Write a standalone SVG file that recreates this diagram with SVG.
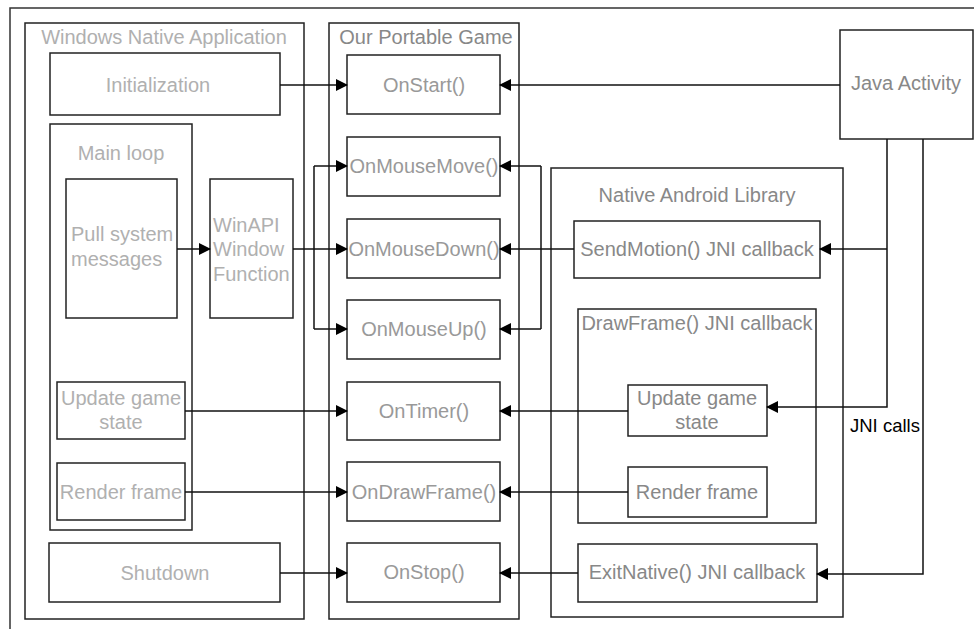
<svg xmlns="http://www.w3.org/2000/svg" width="974" height="629" viewBox="0 0 974 629">
<defs>
<style>
.b{fill:#fff;stroke:#222;stroke-width:1.5}
.c{fill:none;stroke:#111;stroke-width:1.5}
text{font-family:"Liberation Sans",Arial,sans-serif;font-size:20px;dominant-baseline:central}
.l{fill:#b0b0b0;text-anchor:middle}
.m{fill:#999;text-anchor:middle}
.r{fill:#888;text-anchor:middle}
.s{text-anchor:start}
</style>
<marker id="ah" viewBox="0 0 12 12" refX="11" refY="6" markerWidth="12" markerHeight="12" markerUnits="userSpaceOnUse" orient="auto">
<path d="M0,0 L12,6 L0,12 Z" fill="#000"/>
</marker>
</defs>
<rect x="0" y="0" width="974" height="629" fill="#fff"/>
<rect x="10" y="8" width="1000" height="700" fill="none" stroke="#333" stroke-width="1.5"/>

<g id="windows-app">
<rect class="b" x="25" y="23" width="279" height="596"/>
<text class="l" x="164" y="37">Windows Native Application</text>
</g>
<g id="initialization">
<rect class="b" x="50" y="53" width="230" height="62"/>
<text class="l" x="158" y="85">Initialization</text>
</g>
<g id="main-loop">
<rect class="b" x="50" y="124" width="142" height="406"/>
<text class="l" x="121" y="153">Main loop</text>
</g>
<g id="pull-messages">
<rect class="b" x="66" y="179" width="111" height="139"/>
<text class="l s" x="71" y="234">Pull system</text>
<text class="l s" x="71" y="259">messages</text>
</g>
<g id="winapi">
<rect class="b" x="210" y="179" width="83" height="139"/>
<text class="l s" x="213" y="225">WinAPI</text>
<text class="l s" x="213" y="249">Window</text>
<text class="l s" x="213" y="274">Function</text>
</g>
<g id="update-left">
<rect class="b" x="57" y="382" width="128" height="57"/>
<text class="l" x="121" y="398">Update game</text>
<text class="l" x="121" y="422">state</text>
</g>
<g id="render-left">
<rect class="b" x="57" y="463" width="128" height="57"/>
<text class="l" x="121" y="492">Render frame</text>
</g>
<g id="shutdown">
<rect class="b" x="49" y="543" width="231" height="59"/>
<text class="l" x="165" y="573">Shutdown</text>
</g>

<g id="portable-game">
<rect class="b" x="329" y="23" width="190" height="596"/>
<text class="r" x="426" y="37">Our Portable Game</text>
</g>
<g id="onstart">
<rect class="b" x="347" y="55" width="153" height="59"/>
<text class="m" x="424" y="85">OnStart()</text>
</g>
<g id="onmousemove">
<rect class="b" x="347" y="137" width="153" height="59"/>
<text class="m" x="424" y="166">OnMouseMove()</text>
</g>
<g id="onmousedown">
<rect class="b" x="347" y="219" width="153" height="59"/>
<text class="m" x="424" y="249">OnMouseDown()</text>
</g>
<g id="onmouseup">
<rect class="b" x="347" y="300" width="153" height="59"/>
<text class="m" x="424" y="329">OnMouseUp()</text>
</g>
<g id="ontimer">
<rect class="b" x="347" y="382" width="153" height="58"/>
<text class="m" x="424" y="411">OnTimer()</text>
</g>
<g id="ondrawframe">
<rect class="b" x="347" y="462" width="153" height="59"/>
<text class="m" x="424" y="492">OnDrawFrame()</text>
</g>
<g id="onstop">
<rect class="b" x="347" y="543" width="153" height="59"/>
<text class="m" x="424" y="572">OnStop()</text>
</g>

<g id="native-lib">
<rect class="b" x="551" y="168" width="292" height="449"/>
<text class="r" x="697" y="195">Native Android Library</text>
</g>
<g id="sendmotion">
<rect class="b" x="574" y="221" width="246" height="57"/>
<text class="r" x="697" y="249">SendMotion() JNI callback</text>
</g>
<g id="drawframe">
<rect class="b" x="578" y="309" width="238" height="214"/>
<text class="r" x="697" y="323">DrawFrame() JNI callback</text>
</g>
<g id="update-right">
<rect class="b" x="628" y="385" width="139" height="51"/>
<text class="r" x="697" y="398">Update game</text>
<text class="r" x="697" y="422">state</text>
</g>
<g id="render-right">
<rect class="b" x="628" y="467" width="139" height="50"/>
<text class="r" x="697" y="492">Render frame</text>
</g>
<g id="exitnative">
<rect class="b" x="578" y="544" width="239" height="58"/>
<text class="r" x="697" y="572">ExitNative() JNI callback</text>
</g>
<g id="java-activity">
<rect class="b" x="840" y="30" width="133" height="109"/>
<text class="r" x="906" y="83">Java Activity</text>
</g>

<g id="connectors">
<path class="c" d="M280,85 H347" marker-end="url(#ah)"/>
<path class="c" d="M840,85 H500" marker-end="url(#ah)"/>
<path class="c" d="M177,249 H210" marker-end="url(#ah)"/>
<path class="c" d="M293,249 H347" marker-end="url(#ah)"/>
<path class="c" d="M314,166 V329"/>
<path class="c" d="M314,166 H347" marker-end="url(#ah)"/>
<path class="c" d="M314,329 H347" marker-end="url(#ah)"/>
<path class="c" d="M574,249 H500" marker-end="url(#ah)"/>
<path class="c" d="M541,166 V329"/>
<path class="c" d="M541,166 H500" marker-end="url(#ah)"/>
<path class="c" d="M541,329 H500" marker-end="url(#ah)"/>
<path class="c" d="M185,411 H347" marker-end="url(#ah)"/>
<path class="c" d="M185,492 H347" marker-end="url(#ah)"/>
<path class="c" d="M280,573 H347" marker-end="url(#ah)"/>
<path class="c" d="M628,411 H500" marker-end="url(#ah)"/>
<path class="c" d="M628,492 H500" marker-end="url(#ah)"/>
<path class="c" d="M578,573 H500" marker-end="url(#ah)"/>
<path class="c" d="M887,139 V407 H767" marker-end="url(#ah)"/>
<path class="c" d="M887,249 H820" marker-end="url(#ah)"/>
<path class="c" d="M923,139 V574 H817" marker-end="url(#ah)"/>
<text x="850" y="425" fill="#000" style="font-size:18.5px">JNI calls</text>
</g>
</svg>
